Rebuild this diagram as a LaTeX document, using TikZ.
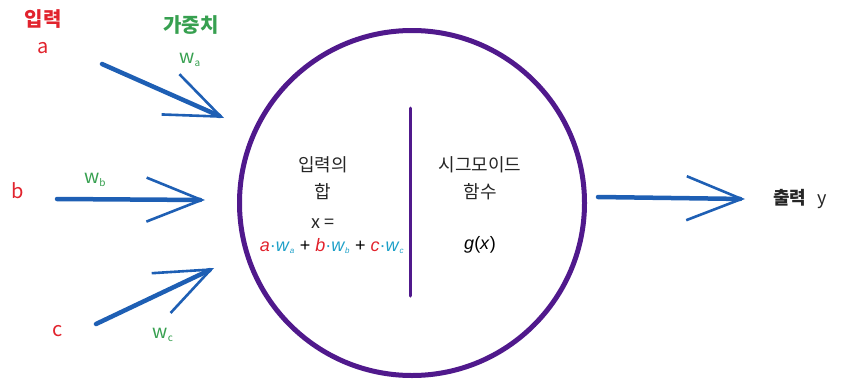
\documentclass[tikz,border=0pt]{standalone}
\usepackage{fontspec}
\setmainfont{Liberation Sans}
\newfontfamily\kr{Noto Sans CJK KR}
\usetikzlibrary{arrows.meta}
\definecolor{inred}{RGB}{225,35,45}
\definecolor{wgreen}{RGB}{55,160,80}
\definecolor{arrblue}{RGB}{30,95,180}
\definecolor{nrpurple}{RGB}{80,25,140}
\definecolor{wteal}{RGB}{30,160,200}
\tikzset{
  inlabel/.style={text=inred, font=\kr\fontsize{20}{22}\selectfont, inner sep=0pt},
  wlabel/.style={text=wgreen, font=\kr\fontsize{19}{21}\selectfont, inner sep=0pt},
  intext/.style={text=black!85, font=\kr\fontsize{18}{27}\selectfont, inner sep=0pt, align=center},
  sketcharrow/.style={draw=arrblue, line width=4.5pt, line cap=round,
    -{Straight Barb[length=55pt,width=44pt,line width=2.6pt]}},
  pt/.style={inner sep=0pt, minimum size=0pt}
}
\begin{document}
\begin{tikzpicture}[x=1pt,y=-1pt]
\useasboundingbox (0,0) rectangle (845,386);
% neuron
\node[draw=nrpurple, line width=5pt, circle, minimum size=345pt, inner sep=0pt] (neuron) at (412,203) {};
\coordinate (divtop) at (410,108);
\coordinate (divbot) at (410,296);
\draw[nrpurple, line width=3pt, line cap=round] (divtop) -- (divbot);
% inputs
\node[inlabel, font=\kr\bfseries\fontsize{20}{22}\selectfont] (inhead) at (43,19) {입력};
\node[inlabel] (a) at (43,48) {a};
\node[inlabel] (b) at (18,191) {b};
\node[inlabel] (c) at (58,331) {c};
\node[wlabel, font=\kr\bfseries\fontsize{20}{22}\selectfont] (whead) at (191,25) {가중치};
\node[wlabel] (wa) at (190,60) {w\textsubscript{\fontsize{10}{11}\selectfont a}};
\node[wlabel] (wb) at (95,180) {w\textsubscript{\fontsize{10}{11}\selectfont b}};
\node[wlabel] (wc) at (163,335) {w\textsubscript{\fontsize{10}{11}\selectfont c}};
% arrow endpoints
\coordinate (aS) at (102,64);
\coordinate (aE) at (224,118);
\coordinate (bS) at (57,199);
\coordinate (bE) at (205,200);
\coordinate (cS) at (96,324);
\coordinate (cE) at (214,268);
\coordinate (oS) at (598,197);
\coordinate (oE) at (745,199);
\draw[sketcharrow] (aS) -- (aE);
\draw[sketcharrow] (bS) -- (bE);
\draw[sketcharrow] (cS) -- (cE);
\draw[sketcharrow] (oS) -- (oE);
% output
\node[intext, anchor=west] (out) at (773,199) {{\bfseries 출력}\hspace{0.6em}y};
% inside text
\node[intext] (sum) at (323,178) {입력의\\합};
\node[intext] (xeq) at (323,224) {\textit{x} =};
\node[inner sep=0pt, font=\fontsize{18}{20}\selectfont] (formula) at (332,246)
  {\textcolor{inred}{\textit{a}}\textcolor{wteal}{·\textit{w}\textsubscript{\fontsize{8}{9}\selectfont\textit{a}}} + \textcolor{inred}{\textit{b}}\textcolor{wteal}{·\textit{w}\textsubscript{\fontsize{8}{9}\selectfont\textit{b}}} + \textcolor{inred}{\textit{c}}\textcolor{wteal}{·\textit{w}\textsubscript{\fontsize{8}{9}\selectfont\textit{c}}}};
\node[intext] (sig) at (480,178) {시그모이드\\함수};
\node[inner sep=0pt, font=\fontsize{18}{20}\selectfont] (gx) at (480,245) {\textit{g}(\textit{x})};
\end{tikzpicture}
\end{document}
